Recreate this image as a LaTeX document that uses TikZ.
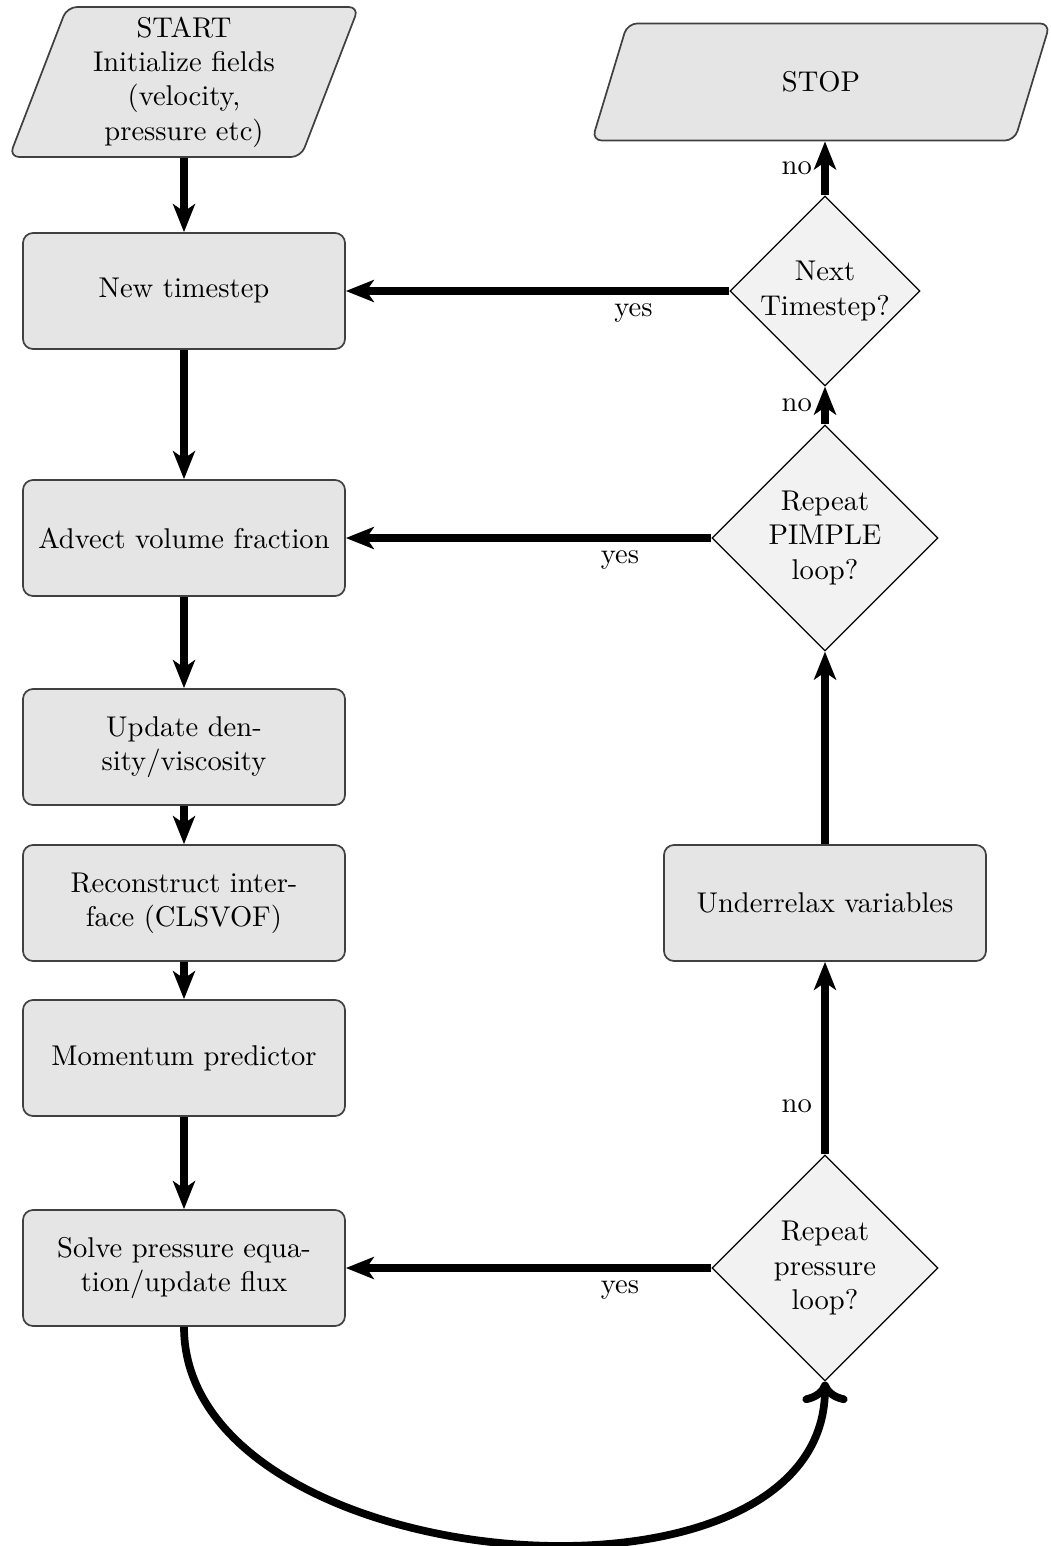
\documentclass[tikz,border=0pt]{standalone}
\usetikzlibrary{shapes.geometric,arrows.meta}
\tikzset{
  x=0.35pt, y=-0.35pt,
  procbox/.style={rectangle, rounded corners=3.5pt, draw=black!75, line width=0.6pt,
    fill=black!10, minimum width=112.7pt, minimum height=40.6pt, inner sep=0pt,
    align=center, font=\normalsize},
  decbox/.style={diamond, aspect=1, draw=black, line width=0.4pt, fill=black!5,
    inner sep=0pt, align=center},
  iobox/.style={trapezium, trapezium left angle=71, trapezium right angle=109,
    trapezium stretches=true, rounded corners=3.5pt, draw=black!75, line width=0.6pt,
    fill=black!10, inner sep=0pt, align=center},
  flow/.style={line width=2.5pt, -{Stealth[length=9.8pt, width=7.7pt, inset=2.6pt]}},
  loopflow/.style={line width=2.7pt, ->},
  lab/.style={font=\normalsize}
}
\begin{document}
\begin{tikzpicture}
\useasboundingbox (0,0) rectangle (1051,1546);
% left column
\node[iobox, minimum width=122.5pt, minimum height=52.5pt] (start) at (184,82)
  {START\\Initialize fields\\(velocity,\\pressure etc)};
\node[procbox] (newts) at (184,291) {New timestep};
\node[procbox] (advect) at (184,538) {Advect volume fraction};
\node[procbox] (update) at (184,747) {Update den-\\sity/viscosity};
\node[procbox] (recon) at (184,903) {Reconstruct inter-\\face (CLSVOF)};
\node[procbox] (momentum) at (184,1058) {Momentum predictor};
\node[procbox] (solve) at (184,1268) {Solve pressure equa-\\tion/update flux};
% right column
\node[iobox, minimum width=160.8pt, minimum height=41pt] (stop) at (821,82) {STOP};
\node[decbox, minimum width=66.5pt, minimum height=66.5pt] (nextts) at (825,291) {Next\\Timestep?};
\node[decbox, minimum width=79.1pt, minimum height=79.1pt] (pimple) at (825,538) {Repeat\\PIMPLE\\loop?};
\node[procbox] (under) at (825,903) {Underrelax variables};
\node[decbox, minimum width=79.1pt, minimum height=79.1pt] (press) at (825,1268) {Repeat\\pressure\\loop?};
% left arrows
\draw[flow] (start.south -| newts.north) -- (newts.north);
\draw[flow] (newts) -- (advect);
\draw[flow] (advect) -- (update);
\draw[flow] (update) -- (recon);
\draw[flow] (recon) -- (momentum);
\draw[flow] (momentum) -- (solve);
% right arrows
\draw[flow] (nextts.north) -- node[lab, left] {no} (nextts.north |- stop.south);
\draw[flow] (nextts.west) -- node[lab, below, pos=0.25] {yes} (newts.east);
\draw[flow] (pimple.north) -- node[lab, left] {no} (nextts.south);
\draw[flow] (pimple.west) -- node[lab, below, pos=0.25] {yes} (advect.east);
\draw[flow] (under.north) -- (pimple.south);
\draw[flow] (press.north) -- node[lab, left, pos=0.25] {no} (under.south);
\draw[flow] (press.west) -- node[lab, below, pos=0.25] {yes} (solve.east);
\draw[loopflow] (solve.south) to[out=-90, in=-90] (press.south);
\end{tikzpicture}
\end{document}
